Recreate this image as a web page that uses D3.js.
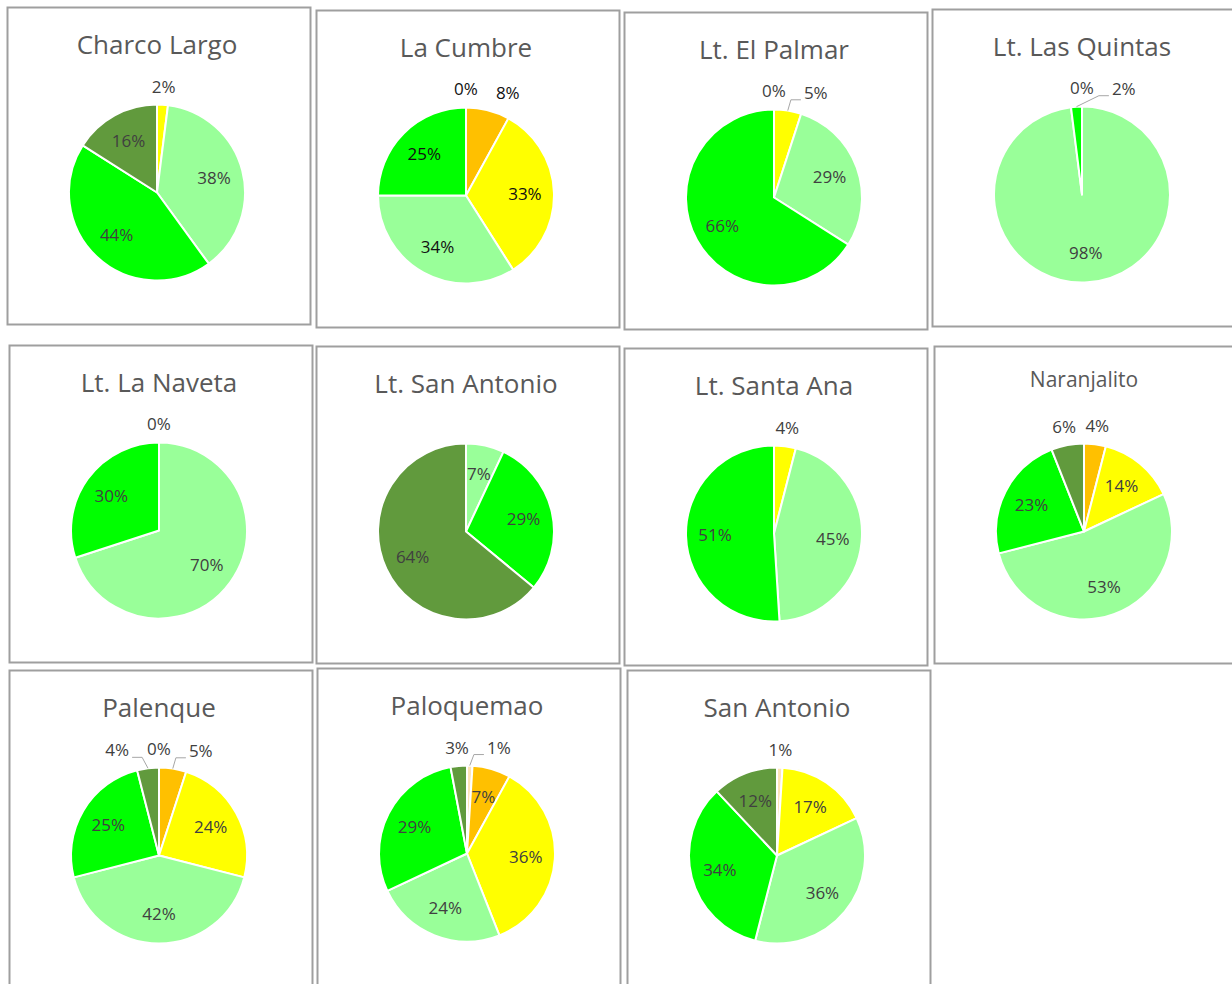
<!DOCTYPE html>
<html>
<head>
<meta charset="utf-8">
<script src="https://cdn.jsdelivr.net/npm/d3@7"></script>
<style>
  body { margin: 0; background: #fff; }
  svg text { font-family: "Open Sans", "Noto Sans", sans-serif; }
</style>
</head>
<body>
<svg id="chart" width="1232" height="984"></svg>
<script>
// Coverage classes, in slice order (clockwise from 12 o'clock)
const categories = ["Clase 1", "Clase 2", "Clase 3", "Clase 4", "Clase 5", "Clase 6"];

const localities = [
  "Charco Largo", "La Cumbre", "Lt. El Palmar", "Lt. Las Quintas",
  "Lt. La Naveta", "Lt. San Antonio", "Lt. Santa Ana", "Naranjalito",
  "Palenque", "Paloquemao", "San Antonio"
];

// Percentage of each class per locality; null = class not present
const charcoLargo  = [null, null, 2, 38, 44, 16];
const laCumbre     = [0, 8, 33, 34, 25, null];
const ltElPalmar   = [0, null, 5, 29, 66, null];
const ltLasQuintas = [0, null, null, 98, 2, null];
const ltLaNaveta   = [0, null, null, 70, 30, null];
const ltSanAntonio = [null, null, null, 7, 29, 64];
const ltSantaAna   = [null, null, 4, 45, 51, null];
const naranjalito  = [null, 4, 14, 53, 23, 6];
const palenque     = [0, 5, 24, 42, 25, 4];
const paloquemao   = [1, 7, 36, 24, 29, 3];
const sanAntonio   = [1, null, 17, 36, 34, 12];

const seriesValues = [
  charcoLargo, laCumbre, ltElPalmar, ltLasQuintas,
  ltLaNaveta, ltSanAntonio, ltSantaAna, naranjalito,
  palenque, paloquemao, sanAntonio
];

// ---- styling / layout ----
const sliceColors = ["#fde3b6", "#ffc000", "#ffff00", "#99ff99", "#00ff00", "#619a3d"];
const panelOrigins = [
  [7, 7], [316, 10], [624, 12], [932, 9],
  [9, 345], [316, 346], [624, 348], [934, 346],
  [9, 670], [317, 668], [627, 670]
];
const panelW = 303, panelH = 317;
const R = 88;
const titleSize = { default: 26, "Naranjalito": 21 };
const titleOffset = { default: 38, "Naranjalito": 34 };
const labelColor = { default: "#404040", "La Cumbre": "#111" };
const forceOutside = { "La Cumbre": ["Clase 2"] };

const svg = d3.select("#chart");
const color = d3.scaleOrdinal().domain(categories).range(sliceColors);
const pie = d3.pie().sort(null).value(d => d.value);
const arc = d3.arc().innerRadius(0).outerRadius(R);
const innerLabelArc = d3.arc().innerRadius(R * 0.67).outerRadius(R * 0.67);
const outerLabelArc = d3.arc().innerRadius(R + 18).outerRadius(R + 18);
const edgeArc = d3.arc().innerRadius(R).outerRadius(R);

localities.forEach((name, i) => {
  const [ox, oy] = panelOrigins[i];
  const g = svg.append("g").attr("transform", `translate(${ox},${oy})`);

  g.append("rect")
    .attr("x", 0.5).attr("y", 0.5)
    .attr("width", panelW).attr("height", panelH)
    .attr("fill", "#fff")
    .attr("stroke", "#9f9f9f")
    .attr("stroke-width", 2);

  const cx = 150, cy = 185.5;

  g.append("text")
    .attr("x", cx).attr("y", titleOffset[name] ?? titleOffset.default)
    .attr("dy", "0.35em")
    .attr("text-anchor", "middle")
    .attr("fill", "#595959")
    .attr("font-size", titleSize[name] ?? titleSize.default)
    .text(name);

  const data = categories
    .map((c, k) => ({ category: c, value: seriesValues[i][k] }))
    .filter(d => d.value !== null);
  const arcs = pie(data);

  const pg = g.append("g").attr("transform", `translate(${cx},${cy})`);

  pg.selectAll("path.slice")
    .data(arcs.filter(a => a.data.value > 0))
    .join("path")
    .attr("class", "slice")
    .attr("d", arc)
    .attr("fill", d => color(d.data.category))
    .attr("stroke", "#fff")
    .attr("stroke-width", 2)
    .attr("stroke-linejoin", "round");

  const fill = labelColor[name] ?? labelColor.default;
  const forced = forceOutside[name] || [];
  const isOutside = a => a.data.value < 7 || forced.includes(a.data.category);

  // labels inside the slices
  pg.selectAll("text.in")
    .data(arcs.filter(a => !isOutside(a)))
    .join("text")
    .attr("class", "in")
    .attr("transform", d => `translate(${innerLabelArc.centroid(d)})`)
    .attr("dy", "0.35em")
    .attr("text-anchor", "middle")
    .attr("font-size", 17)
    .attr("fill", fill)
    .text(d => d.data.value + "%");

  // labels outside the pie, spread apart when they collide
  const outs = arcs.filter(isOutside).map(a => {
    const [nx, ny] = outerLabelArc.centroid(a);
    return { a, nx, ny, x: nx, y: ny, w: 0, h: 16, value: a.data.value };
  });
  const outText = pg.selectAll("text.out")
    .data(outs)
    .join("text")
    .attr("class", "out")
    .attr("dy", "0.35em")
    .attr("text-anchor", "middle")
    .attr("font-size", 17)
    .attr("fill", fill)
    .text(d => d.value + "%");
  outText.each(function (d) { d.w = this.getComputedTextLength(); });

  const pad = 3, gap = 18;
  const placed = [];
  const hit = (b) => placed.find(p =>
    b.x - b.w / 2 < p.x + p.w / 2 + pad &&
    b.x + b.w / 2 + pad > p.x - p.w / 2 &&
    Math.abs(b.y - p.y) < b.h);
  outs.slice()
    .sort((p, q) => ((p.value === 0 ? 0 : 1) - (q.value === 0 ? 0 : 1)) || (q.value - p.value))
    .forEach(lb => {
      const other = hit(lb);
      if (other) {
        const rx = other.x + other.w / 2 + gap + lb.w / 2;
        if (!hit({ ...lb, x: rx })) lb.x = rx;
        else lb.x = other.x - other.w / 2 - gap - lb.w / 2;
      }
      placed.push(lb);
    });

  outText.attr("x", d => d.x).attr("y", d => d.y);

  // leader lines for labels moved away from their slice
  const leaders = outs.filter(d => Math.abs(d.x - d.nx) > 18);
  pg.selectAll("polyline.leader")
    .data(leaders)
    .join("polyline")
    .attr("class", "leader")
    .attr("fill", "none")
    .attr("stroke", "#a6a6a6")
    .attr("stroke-width", 1)
    .attr("points", d => {
      const [sx, sy] = edgeArc.centroid(d.a);
      const right = d.x > d.nx;
      const ey = d.y + 7;
      const ex = right ? d.x - d.w / 2 - 3 : d.x + d.w / 2 + 3;
      const kx = right ? ex - 10 : ex + 10;
      return [[sx, sy], [kx, ey], [ex, ey]].map(p => p.join(",")).join(" ");
    });
});
</script>
</body>
</html>
